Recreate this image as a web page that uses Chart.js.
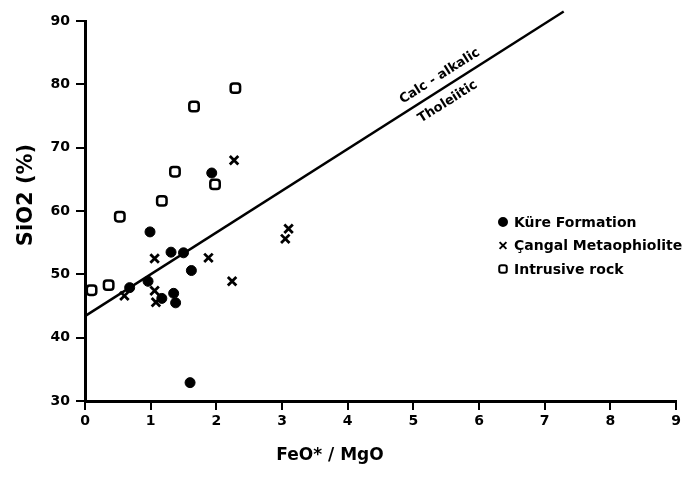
<!DOCTYPE html>
<html>
<head>
<meta charset="utf-8">
<script src="https://cdn.jsdelivr.net/npm/chart.js@4.4.1/dist/chart.umd.min.js"></script>
<style>
  html,body{margin:0;padding:0;background:#fff;}
  #wrap{width:689px;height:481px;}
</style>
</head>
<body>
<div id="wrap"><canvas id="c" width="689" height="481"></canvas></div>
<script>
// ---- data ----
const kureX = [0.99, 1.31, 1.50, 1.62, 0.96, 0.68, 1.17, 1.35, 1.38, 1.93, 1.60];
const kureY = [56.7, 53.5, 53.4, 50.6, 48.9, 47.9, 46.2, 47.0, 45.5, 66.0, 32.9];

const cangalX = [0.60, 1.06, 1.06, 1.08, 1.88, 2.24, 3.05, 3.10, 2.27];
const cangalY = [46.6, 52.5, 47.4, 45.6, 52.6, 48.9, 55.6, 57.2, 68.0];

const intrusiveX = [0.10, 0.36, 0.53, 1.17, 1.37, 1.66, 1.98, 2.29];
const intrusiveY = [47.5, 48.3, 59.1, 61.6, 66.2, 76.5, 64.2, 79.4];

// Calc-alkalic / Tholeiitic dividing line
const boundaryX = [0, 7.29];
const boundaryY = [43.4, 91.5];

const xTicks = [0, 1, 2, 3, 4, 5, 6, 7, 8, 9];
const yTicks = [30, 40, 50, 60, 70, 80, 90];

const seriesNames = ['Küre Formation', 'Çangal Metaophiolite', 'Intrusive rock'];
const lineLabels = ['Calc - alkalic', 'Tholeiitic'];
const xTitle = 'FeO* / MgO';
const yTitle = 'SiO2 (%)';

const pts = (xs, ys) => xs.map((v, i) => ({x: v, y: ys[i]}));

const FONT = "'DejaVu Sans', sans-serif";

const annotPlugin = {
  id: 'annot',
  afterDraw(chart) {
    const {ctx, scales: {x, y}, chartArea: ca} = chart;
    ctx.save();
    ctx.fillStyle = '#000';
    ctx.strokeStyle = '#000';

    // labels along the dividing line
    const x0 = x.getPixelForValue(boundaryX[0]), y0 = y.getPixelForValue(boundaryY[0]);
    const x1 = x.getPixelForValue(boundaryX[1]), y1 = y.getPixelForValue(boundaryY[1]);
    const ang = Math.atan2(y1 - y0, x1 - x0);
    const nUp = {x: Math.sin(ang), y: -Math.cos(ang)};
    const onLine = (xv) => {
      const t = (xv - boundaryX[0]) / (boundaryX[1] - boundaryX[0]);
      const yv = boundaryY[0] + t * (boundaryY[1] - boundaryY[0]);
      return {x: x.getPixelForValue(xv), y: y.getPixelForValue(yv)};
    };
    ctx.font = "bold 13px " + FONT;
    ctx.textAlign = 'center';
    ctx.textBaseline = 'middle';
    const p1 = onLine(5.5);
    ctx.save();
    ctx.translate(p1.x + nUp.x * 12, p1.y + nUp.y * 12);
    ctx.rotate(ang);
    ctx.fillText(lineLabels[0], 0, 0);
    ctx.restore();
    const p2 = onLine(5.41);
    ctx.save();
    ctx.translate(p2.x - nUp.x * 14, p2.y - nUp.y * 14);
    ctx.rotate(ang);
    ctx.fillText(lineLabels[1], 0, 0);
    ctx.restore();

    // legend
    const lx = ca.left + 418, ly = ca.top + 201, gap = 23.5;
    ctx.font = "bold 14px " + FONT;
    ctx.textAlign = 'left';
    for (let i = 0; i < 3; i++) {
      const ds = chart.data.datasets[i];
      const cy = ly + i * gap;
      ctx.fillStyle = ds.backgroundColor;
      ctx.strokeStyle = ds.borderColor;
      ctx.lineWidth = 2;
      Chart.helpers.drawPoint(ctx, {
        pointStyle: ds.pointStyle, radius: ds.pointRadius * 0.8,
        rotation: 0, borderWidth: 2
      }, lx, cy);
      ctx.fillStyle = '#000';
      ctx.fillText(seriesNames[i], lx + 11, cy + 1);
    }

    // axis titles
    ctx.font = "bold 17px " + FONT;
    ctx.textAlign = 'center';
    ctx.fillText(xTitle, 330, 456);
    ctx.save();
    ctx.translate(27, 195);
    ctx.rotate(-Math.PI / 2);
    ctx.font = "bold 21px " + FONT;
    ctx.fillText(yTitle, 0, 0);
    ctx.restore();

    ctx.restore();
  }
};

new Chart(document.getElementById('c'), {
  type: 'scatter',
  data: {
    datasets: [
      {
        label: seriesNames[0], data: pts(kureX, kureY),
        pointStyle: 'circle', pointRadius: 5, pointHoverRadius: 5,
        backgroundColor: '#000', borderColor: '#000', borderWidth: 1
      },
      {
        label: seriesNames[1], data: pts(cangalX, cangalY),
        pointStyle: 'crossRot', pointRadius: 6, pointHoverRadius: 6,
        backgroundColor: '#000', borderColor: '#000', borderWidth: 2.8
      },
      {
        label: seriesNames[2], data: pts(intrusiveX, intrusiveY),
        pointStyle: 'rectRounded', pointRadius: 5.5, pointHoverRadius: 5.5,
        backgroundColor: '#fff', borderColor: '#000', borderWidth: 2.5
      },
      {
        label: 'boundary', data: pts(boundaryX, boundaryY),
        showLine: true, pointRadius: 0, borderColor: '#000',
        borderWidth: 2.4, fill: false, clip: false
      }
    ]
  },
  options: {
    responsive: false,
    animation: false,
    events: [],
    layout: {padding: {top: 21, right: 13, left: 0, bottom: 0}},
    plugins: {legend: {display: false}, tooltip: {enabled: false}},
    scales: {
      x: {
        type: 'linear', min: 0, max: 9,
        afterBuildTicks: (s) => { s.ticks = xTicks.map(v => ({value: v})); },
        afterFit: (s) => { s.height = 80; },
        ticks: {color: '#000', font: {family: FONT, weight: 'bold', size: 14}, padding: 3},
        grid: {drawOnChartArea: false, drawTicks: true, tickLength: 9, color: '#000', lineWidth: 2},
        border: {display: true, color: '#000', width: 3}
      },
      y: {
        type: 'linear', min: 30, max: 90,
        afterBuildTicks: (s) => { s.ticks = yTicks.map(v => ({value: v})); },
        afterFit: (s) => { s.width = 85; },
        ticks: {color: '#000', font: {family: FONT, weight: 'bold', size: 14}, padding: 6},
        grid: {drawOnChartArea: false, drawTicks: true, tickLength: 9, color: '#000', lineWidth: 2},
        border: {display: true, color: '#000', width: 3}
      }
    }
  },
  plugins: [annotPlugin]
});
</script>
</body>
</html>
